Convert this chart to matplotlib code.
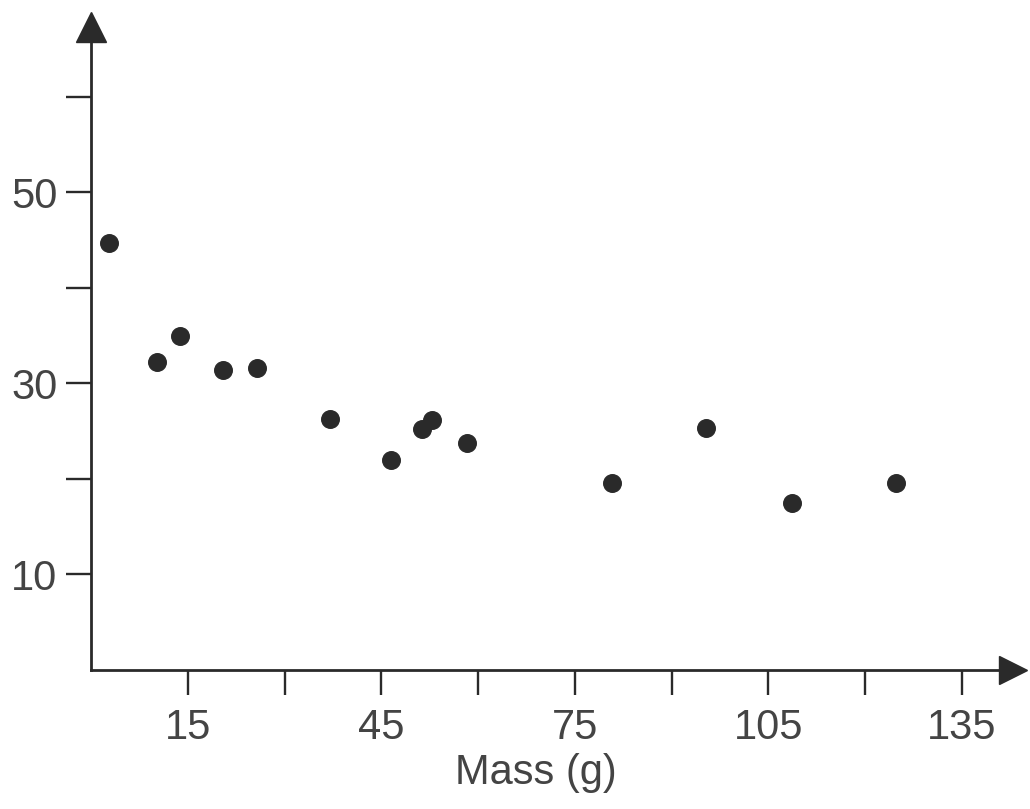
import numpy as np
import matplotlib
matplotlib.use("Agg")
import matplotlib.pyplot as plt

# data
mass = [2.8, 10.2, 13.8, 20.5, 25.7, 37.1, 46.5, 51.3, 52.8, 58.3, 80.8, 95.3, 108.7, 124.8]
value = [44.7, 32.2, 34.9, 31.4, 31.6, 26.2, 21.9, 25.2, 26.1, 23.7, 19.5, 25.3, 17.4, 19.5]

x_ticks = [15, 30, 45, 60, 75, 90, 105, 120, 135]
x_labels = ["15", "", "45", "", "75", "", "105", "", "135"]
y_ticks = [10, 20, 30, 40, 50, 60]
y_labels = ["10", "", "30", "", "50", ""]

plt.rcParams['font.family'] = ['Liberation Sans', 'DejaVu Sans']
ink = "#2a2a2a"
txt = "#444444"

fig = plt.figure(figsize=(10.30, 8.09), dpi=100)
ax = fig.add_axes([0.0883, 0.1724, 0.8951, 0.7905])

ax.scatter(mass, value, s=160, color=ink, zorder=3, clip_on=False)

ax.set_xlim(0, 142.9)
ax.set_ylim(0, 67.0)

# only the left and bottom axis lines, with arrow heads
for side in ["top", "right"]:
    ax.spines[side].set_visible(False)
for side in ["left", "bottom"]:
    ax.spines[side].set_linewidth(2.0)
    ax.spines[side].set_color(ink)
ax.plot(1, 0, ">", color=ink, markersize=20, transform=ax.get_yaxis_transform(), clip_on=False)
ax.plot(0, 1.005, "^", color=ink, markersize=21, transform=ax.get_xaxis_transform(), clip_on=False)

ax.set_xticks(x_ticks)
ax.set_xticklabels(x_labels)
ax.set_yticks(y_ticks)
ax.set_yticklabels(y_labels)
ax.tick_params(axis="both", direction="out", length=18, width=1.7, color=ink,
               labelsize=30, labelcolor=txt)
ax.tick_params(axis="x", pad=10)
ax.tick_params(axis="y", pad=6)

ax.set_xlabel("Mass (g)", fontsize=30, color=txt)
ax.xaxis.set_label_coords(0.483, -0.13)

fig.savefig("out.png", dpi=100)
